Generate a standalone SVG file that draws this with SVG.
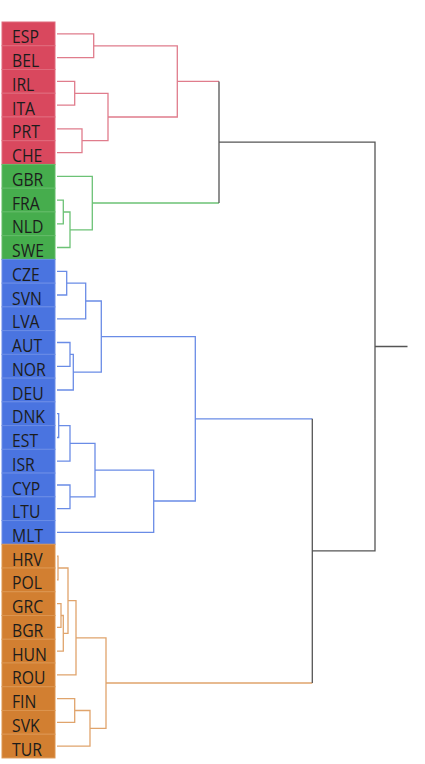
<svg xmlns="http://www.w3.org/2000/svg" width="425" height="764" viewBox="0 0 425 764">
<style>
.cell{stroke-width:1}
.r{fill:#d9485e;stroke:#e06a7c}
.g{fill:#46ad4d;stroke:#62bb68}
.b{fill:#4a74e0;stroke:#6a8ce6}
.o{fill:#d27f31;stroke:#dc9550}
.lbl{font-family:"Open Sans","Noto Sans",sans-serif;font-size:19px;fill:#1c1c1c}
.lr,.lg,.lb,.lo,.lk{fill:none;stroke-width:1.3}
.lr{stroke:#e07c8c}.lg{stroke:#6cc276}.lb{stroke:#6a8ce6}.lo{stroke:#e0a46c}.lk{stroke:#555}
</style>
<rect width="425" height="764" fill="#fff"/>
<g id="leaves">
<g id="ESP"><rect class="cell r" x="2" y="22" width="53" height="23.74"/><text class="lbl" x="12" y="43.5" transform="translate(12 0) scale(0.83 1) translate(-12 0)">ESP</text></g>
<g id="BEL"><rect class="cell r" x="2" y="45.74" width="53" height="23.74"/><text class="lbl" x="12" y="67.2" transform="translate(12 0) scale(0.83 1) translate(-12 0)">BEL</text></g>
<g id="IRL"><rect class="cell r" x="2" y="69.48" width="53" height="23.74"/><text class="lbl" x="12" y="91" transform="translate(12 0) scale(0.83 1) translate(-12 0)">IRL</text></g>
<g id="ITA"><rect class="cell r" x="2" y="93.22" width="53" height="23.74"/><text class="lbl" x="12" y="114.7" transform="translate(12 0) scale(0.83 1) translate(-12 0)">ITA</text></g>
<g id="PRT"><rect class="cell r" x="2" y="116.96" width="53" height="23.74"/><text class="lbl" x="12" y="138.4" transform="translate(12 0) scale(0.83 1) translate(-12 0)">PRT</text></g>
<g id="CHE"><rect class="cell r" x="2" y="140.7" width="53" height="23.74"/><text class="lbl" x="12" y="162.2" transform="translate(12 0) scale(0.83 1) translate(-12 0)">CHE</text></g>
<g id="GBR"><rect class="cell g" x="2" y="164.44" width="53" height="23.74"/><text class="lbl" x="12" y="185.9" transform="translate(12 0) scale(0.83 1) translate(-12 0)">GBR</text></g>
<g id="FRA"><rect class="cell g" x="2" y="188.18" width="53" height="23.74"/><text class="lbl" x="12" y="209.7" transform="translate(12 0) scale(0.83 1) translate(-12 0)">FRA</text></g>
<g id="NLD"><rect class="cell g" x="2" y="211.92" width="53" height="23.74"/><text class="lbl" x="12" y="233.4" transform="translate(12 0) scale(0.83 1) translate(-12 0)">NLD</text></g>
<g id="SWE"><rect class="cell g" x="2" y="235.66" width="53" height="23.74"/><text class="lbl" x="12" y="257.2" transform="translate(12 0) scale(0.83 1) translate(-12 0)">SWE</text></g>
<g id="CZE"><rect class="cell b" x="2" y="259.4" width="53" height="23.74"/><text class="lbl" x="12" y="280.9" transform="translate(12 0) scale(0.83 1) translate(-12 0)">CZE</text></g>
<g id="SVN"><rect class="cell b" x="2" y="283.14" width="53" height="23.74"/><text class="lbl" x="12" y="304.6" transform="translate(12 0) scale(0.83 1) translate(-12 0)">SVN</text></g>
<g id="LVA"><rect class="cell b" x="2" y="306.88" width="53" height="23.74"/><text class="lbl" x="12" y="328.4" transform="translate(12 0) scale(0.83 1) translate(-12 0)">LVA</text></g>
<g id="AUT"><rect class="cell b" x="2" y="330.62" width="53" height="23.74"/><text class="lbl" x="12" y="352.1" transform="translate(12 0) scale(0.83 1) translate(-12 0)">AUT</text></g>
<g id="NOR"><rect class="cell b" x="2" y="354.36" width="53" height="23.74"/><text class="lbl" x="12" y="375.9" transform="translate(12 0) scale(0.83 1) translate(-12 0)">NOR</text></g>
<g id="DEU"><rect class="cell b" x="2" y="378.1" width="53" height="23.74"/><text class="lbl" x="12" y="399.6" transform="translate(12 0) scale(0.83 1) translate(-12 0)">DEU</text></g>
<g id="DNK"><rect class="cell b" x="2" y="401.84" width="53" height="23.74"/><text class="lbl" x="12" y="423.3" transform="translate(12 0) scale(0.83 1) translate(-12 0)">DNK</text></g>
<g id="EST"><rect class="cell b" x="2" y="425.58" width="53" height="23.74"/><text class="lbl" x="12" y="447.1" transform="translate(12 0) scale(0.83 1) translate(-12 0)">EST</text></g>
<g id="ISR"><rect class="cell b" x="2" y="449.32" width="53" height="23.74"/><text class="lbl" x="12" y="470.8" transform="translate(12 0) scale(0.83 1) translate(-12 0)">ISR</text></g>
<g id="CYP"><rect class="cell b" x="2" y="473.06" width="53" height="23.74"/><text class="lbl" x="12" y="494.6" transform="translate(12 0) scale(0.83 1) translate(-12 0)">CYP</text></g>
<g id="LTU"><rect class="cell b" x="2" y="496.8" width="53" height="23.74"/><text class="lbl" x="12" y="518.3" transform="translate(12 0) scale(0.83 1) translate(-12 0)">LTU</text></g>
<g id="MLT"><rect class="cell b" x="2" y="520.54" width="53" height="23.74"/><text class="lbl" x="12" y="542" transform="translate(12 0) scale(0.83 1) translate(-12 0)">MLT</text></g>
<g id="HRV"><rect class="cell o" x="2" y="544.28" width="53" height="23.74"/><text class="lbl" x="12" y="565.8" transform="translate(12 0) scale(0.83 1) translate(-12 0)">HRV</text></g>
<g id="POL"><rect class="cell o" x="2" y="568.02" width="53" height="23.74"/><text class="lbl" x="12" y="589.5" transform="translate(12 0) scale(0.83 1) translate(-12 0)">POL</text></g>
<g id="GRC"><rect class="cell o" x="2" y="591.76" width="53" height="23.74"/><text class="lbl" x="12" y="613.3" transform="translate(12 0) scale(0.83 1) translate(-12 0)">GRC</text></g>
<g id="BGR"><rect class="cell o" x="2" y="615.5" width="53" height="23.74"/><text class="lbl" x="12" y="637" transform="translate(12 0) scale(0.83 1) translate(-12 0)">BGR</text></g>
<g id="HUN"><rect class="cell o" x="2" y="639.24" width="53" height="23.74"/><text class="lbl" x="12" y="660.7" transform="translate(12 0) scale(0.83 1) translate(-12 0)">HUN</text></g>
<g id="ROU"><rect class="cell o" x="2" y="662.98" width="53" height="23.74"/><text class="lbl" x="12" y="684.5" transform="translate(12 0) scale(0.83 1) translate(-12 0)">ROU</text></g>
<g id="FIN"><rect class="cell o" x="2" y="686.72" width="53" height="23.74"/><text class="lbl" x="12" y="708.2" transform="translate(12 0) scale(0.83 1) translate(-12 0)">FIN</text></g>
<g id="SVK"><rect class="cell o" x="2" y="710.46" width="53" height="23.74"/><text class="lbl" x="12" y="732" transform="translate(12 0) scale(0.83 1) translate(-12 0)">SVK</text></g>
<g id="TUR"><rect class="cell o" x="2" y="734.2" width="53" height="23.74"/><text class="lbl" x="12" y="755.7" transform="translate(12 0) scale(0.83 1) translate(-12 0)">TUR</text></g>
</g>
<g id="connectors">
<path class="lr" d="M57 33.9H93.7V57.6H57 M57 81.4H74.7V105.1H57 M57 128.8H82V152.6H57 M74.7 93.3H108V140.7H82 M93.7 45.8H177.3V117H108 M177.3 81.4H219"/>
<path class="lg" d="M57 200.1H63.3V223.8H57 M63.3 212H70V247.5H57 M57 176.3H92.3V229.8H70 M92.3 203H219"/>
<path class="lb" d="M57 271.3H66.7V295H57 M66.7 283.1H85.7V318.8H57 M57 342.5H70V366.3H57 M70 354.4H73.3V390H57 M85.7 301H101.3V372.2H73.3 M101.3 336.6H195.3V501H153.7 M57 413.7H58.7V437.5H57 M58.7 425.6H70V461.2H57 M57 485H70V508.7H57 M70 443.4H95V496.9H70 M95 470.1H153.7V532.4H57 M195.3 418.8H312.3"/>
<path class="lo" d="M57 556.2H58V579.9H57 M57 603.7H61V627.4H57 M61 615.5H63.3V651.1H57 M58 568H68V633.3H63.3 M68 600.7H76V674.9H57 M57 698.6H74.7V722.4H57 M74.7 710.5H90V746.1H57 M76 637.8H106V728.3H90 M106 683H312.3"/>
<path class="lk" d="M219 81.4V203 M219 142.2H375V550.9H312.3 M312.3 418.8V683 M375 346.5H407.5"/>
</g>
</svg>
